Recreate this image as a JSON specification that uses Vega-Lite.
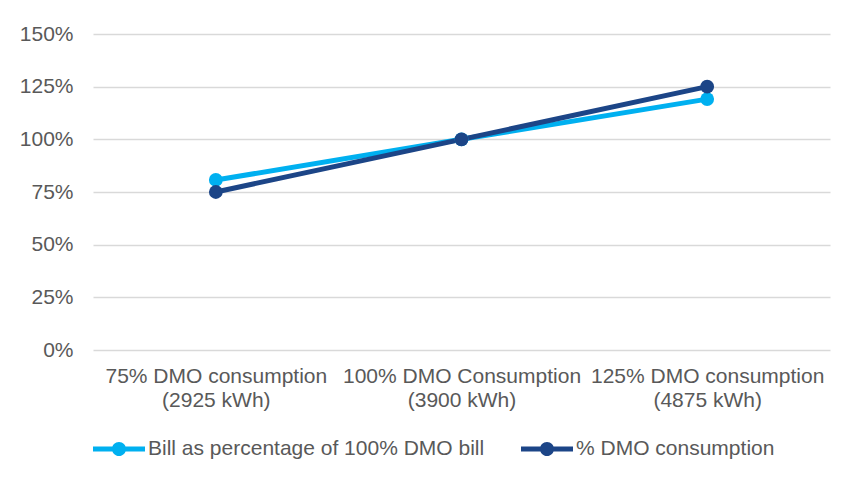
{
  "$schema": "https://vega.github.io/schema/vega-lite/v6.json",
  "autosize": {"type": "none"},
  "width": 737,
  "height": 316,
  "padding": {"left": 93, "top": 34, "right": 14, "bottom": 127},
  "background": "white",
  "config": {
    "font": "Liberation Sans",
    "view": {"stroke": null},
    "axis": {"labelFont": "Liberation Sans", "labelFontSize": 21, "labelColor": "#595959"}
  },
  "data": {
    "values": [
      {"cat": "75% DMO consumption|(2925 kWh)", "series": "Bill as percentage of 100% DMO bill", "value": 0.807},
      {"cat": "100% DMO Consumption|(3900 kWh)", "series": "Bill as percentage of 100% DMO bill", "value": 1.0},
      {"cat": "125% DMO consumption|(4875 kWh)", "series": "Bill as percentage of 100% DMO bill", "value": 1.191},
      {"cat": "75% DMO consumption|(2925 kWh)", "series": "% DMO consumption", "value": 0.75},
      {"cat": "100% DMO Consumption|(3900 kWh)", "series": "% DMO consumption", "value": 1.0},
      {"cat": "125% DMO consumption|(4875 kWh)", "series": "% DMO consumption", "value": 1.25}
    ]
  },
  "encoding": {
    "x": {
      "field": "cat", "type": "ordinal", "sort": null,
      "scale": {"type": "point", "padding": 0.5},
      "axis": {"title": null, "labelAngle": 0, "domain": false, "ticks": false, "grid": false,
               "labelExpr": "split(datum.label, '|')", "labelLineHeight": 24, "labelPadding": 15, "labelLimit": 0}
    },
    "y": {
      "field": "value", "type": "quantitative",
      "scale": {"domain": [0, 1.5]},
      "axis": {"title": null, "values": [0, 0.25, 0.5, 0.75, 1, 1.25, 1.5], "format": ".0%",
               "domain": false, "ticks": false, "gridColor": "#d9d9d9", "gridWidth": 1.5, "labelPadding": 20}
    },
    "color": {"field": "series", "type": "nominal",
              "scale": {"domain": ["Bill as percentage of 100% DMO bill", "% DMO consumption"], "range": ["#00B0F0", "#1C4587"]},
              "legend": {"title": null, "orient": "bottom", "direction": "horizontal",
                         "symbolType": "M-1,-0.1H1V0.1H-1Z M0.27,0A0.27,0.27,0,1,1,-0.27,0A0.27,0.27,0,1,1,0.27,0Z",
                         "symbolSize": 2704, "symbolStrokeWidth": 0, "symbolOpacity": 1,
                         "labelFontSize": 21, "labelColor": "#595959", "labelFont": "Liberation Sans", "labelLimit": 0,
                         "labelOffset": 3, "columnPadding": 36, "offset": 13,
                         "encode": {"symbols": {"update": {"fill": {"scale": "color", "field": "value"}, "size": {"value": 2704}, "strokeWidth": {"value": 0}, "opacity": {"value": 1}}}}}
    }
  },
  "layer": [
    {
      "mark": {"type": "line", "strokeWidth": 5}
    },
    {
      "mark": {"type": "point", "filled": true, "opacity": 1, "size": 190}
    }
  ]
}
